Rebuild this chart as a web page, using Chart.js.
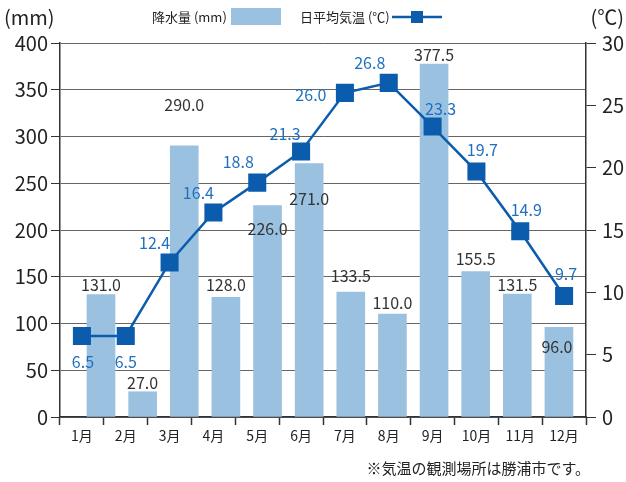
<!DOCTYPE html>
<html>
<head>
<meta charset="utf-8">
<script src="https://cdn.jsdelivr.net/npm/chart.js@4.4.1/dist/chart.umd.min.js"></script>
<style>
  body { margin: 0; background: #fff; }
  #wrap { width: 626px; height: 482px; }
</style>
</head>
<body>
<div id="wrap"><canvas id="c"></canvas></div>
<script>
const months = ["1月", "2月", "3月", "4月", "5月", "6月", "7月", "8月", "9月", "10月", "11月", "12月"];
const rain = [131.0, 27.0, 290.0, 128.0, 226.0, 271.0, 133.5, 110.0, 377.5, 155.5, 131.5, 96.0];
const temp = [6.5, 6.5, 12.4, 16.4, 18.8, 21.3, 26.0, 26.8, 23.3, 19.7, 14.9, 9.7];
const rainTicks = [0, 50, 100, 150, 200, 250, 300, 350, 400];
const tempTicks = [0, 5, 10, 15, 20, 25, 30];

// ラベルの位置ずらし (px)
const rainLabelOffset = [[0, -10], [0, -9], [0, -41], [0, -12], [0, 23], [0, 35], [0, -16], [0, -11], [0, -9], [0, -13], [0, -9], [-2, 20]];
const tempLabelOffset = [[1, 26], [0, 26], [-15, -19], [-15, -20], [-19, -21], [-16, -18], [-34, 2], [-19, -20], [8, -18], [6, -21], [6, -21], [2, -22]];

const FONT = '"Noto Sans CJK JP", "Noto Sans", sans-serif';
const BAR = "#9bc1e0";
const LINE = "#0b5cad";

const labelsPlugin = {
    id: "labels",
    afterDatasetsDraw(chart) {
        const ctx = chart.ctx;
        ctx.save();
        ctx.font = "16px " + FONT;
        ctx.textAlign = "center";
        ctx.textBaseline = "middle";
        chart.getDatasetMeta(0).data.forEach((el, i) => {
            ctx.fillStyle = "#333";
            ctx.fillText(rain[i].toFixed(1), el.x + rainLabelOffset[i][0], el.y + rainLabelOffset[i][1]);
        });
        chart.getDatasetMeta(1).data.forEach((el, i) => {
            ctx.fillStyle = "#1f6fc0";
            ctx.fillText(temp[i].toFixed(1), el.x + tempLabelOffset[i][0], el.y + tempLabelOffset[i][1]);
        });
        ctx.restore();
    },
    afterDraw(chart) {
        const ctx = chart.ctx;
        ctx.save();
        ctx.fillStyle = "#222";
        ctx.textBaseline = "middle";
        ctx.font = "20px " + FONT;
        ctx.textAlign = "left";
        ctx.fillText("(mm)", 4, 17);
        ctx.textAlign = "right";
        ctx.fillText("(℃)", 624, 17);

        // 凡例
        ctx.font = "13px " + FONT;
        ctx.textAlign = "left";
        ctx.fillText("降水量 (mm)", 152, 17);
        ctx.fillStyle = BAR;
        ctx.fillRect(231, 8, 50, 17);
        ctx.fillStyle = "#222";
        ctx.fillText("日平均気温 (℃)", 300, 17);
        ctx.strokeStyle = LINE;
        ctx.lineWidth = 2.5;
        ctx.beginPath();
        ctx.moveTo(392, 17);
        ctx.lineTo(442, 17);
        ctx.stroke();
        ctx.fillStyle = LINE;
        ctx.fillRect(411, 11, 12, 12);

        // 注記
        ctx.fillStyle = "#222";
        ctx.font = "15px " + FONT;
        ctx.textAlign = "right";
        ctx.fillText("※気温の観測場所は勝浦市です。", 590, 468);
        ctx.restore();
    }
};

new Chart(document.getElementById("c").getContext("2d"), {
    data: {
        labels: months,
        datasets: [
            {
                type: "bar",
                label: "降水量 (mm)",
                data: rain.map((v, i) => ({ x: i, y: v })),
                backgroundColor: BAR,
                grouped: false,
                categoryPercentage: 1,
                barPercentage: 1,
                maxBarThickness: 28,
                xAxisID: "xb",
                yAxisID: "y",
                order: 2,
            },
            {
                type: "line",
                label: "日平均気温 (℃)",
                data: temp,
                borderColor: LINE,
                backgroundColor: LINE,
                borderWidth: 2.5,
                pointStyle: "rect",
                pointRadius: 11,
                pointHoverRadius: 11,
                xAxisID: "x",
                yAxisID: "y1",
                order: 1,
            },
        ],
    },
    options: {
        responsive: true,
        maintainAspectRatio: false,
        animation: false,
        layout: { padding: { top: 43, left: 0, right: 0, bottom: 0 } },
        plugins: {
            legend: { display: false },
            tooltip: { enabled: false },
        },
        scales: {
            x: {
                offset: true,
                grid: {
                    offset: true,
                    drawOnChartArea: false,
                    color: "#333",
                    tickLength: 8,
                    tickWidth: 1.5,
                },
                border: { color: "#333", width: 1.5 },
                ticks: { color: "#222", font: { family: FONT, size: 14 }, padding: 2 },
                afterFit(s) { s.height = 65; },
            },
            // 棒グラフ用の横軸 (見えない)
            xb: {
                type: "linear",
                position: "bottom",
                offset: false,
                min: -0.985,
                max: 11.65,
                grid: { display: false, offset: false },
                border: { display: false },
                ticks: { display: false },
                afterFit(s) { s.height = 0; },
            },
            y: {
                position: "left",
                min: 0,
                max: 400,
                afterBuildTicks(s) { s.ticks = rainTicks.map(v => ({ value: v })); },
                grid: { color: "#666", lineWidth: 1, tickLength: 9, tickColor: "#333" },
                border: { color: "#333", width: 1.5 },
                ticks: { color: "#222", font: { family: FONT, size: 20 }, padding: 3 },
                afterFit(s) { s.width = 60; },
            },
            y1: {
                position: "right",
                min: 0,
                max: 30,
                afterBuildTicks(s) { s.ticks = tempTicks.map(v => ({ value: v })); },
                grid: { drawOnChartArea: false, tickLength: 10, tickColor: "#333" },
                border: { color: "#333", width: 1.5 },
                ticks: { color: "#222", font: { family: FONT, size: 20 }, padding: 6 },
                afterFit(s) { s.width = 40; },
            },
        },
    },
    plugins: [labelsPlugin],
});
</script>
</body>
</html>
